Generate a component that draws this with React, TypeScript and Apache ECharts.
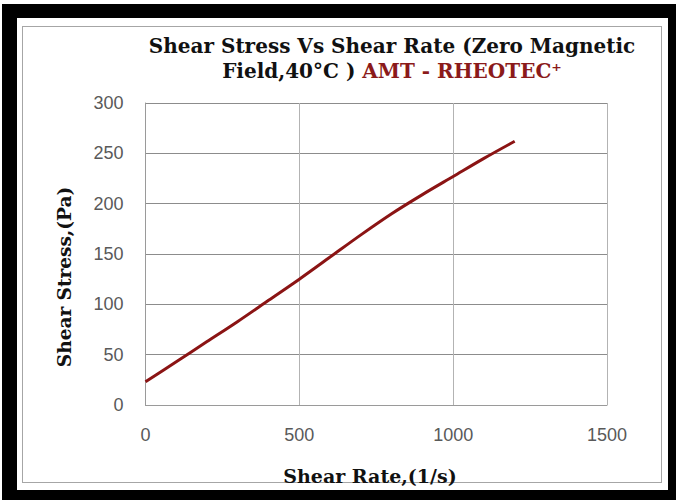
import React, { useEffect, useRef } from "react";
import * as echarts from "echarts";

const shearRate = [0, 100, 200, 300, 400, 500, 600, 700, 800, 900, 1000, 1100, 1200];
const shearStress = [23, 43, 63, 83, 104, 125, 147, 169, 190, 209, 227, 245, 262];
const xTicks = { min: 0, max: 1500, interval: 500 };
const yTicks = { min: 0, max: 300, interval: 50 };
const titleLine1 = "Shear Stress Vs Shear Rate (Zero Magnetic";
const titleLine2a = "Field,40°C ) ";
const titleLine2b = "AMT - RHEOTEC⁺";
const xName = "Shear Rate,(1/s)";
const yName = "Shear Stress,(Pa)";

export default function App() {
  const ref = useRef<HTMLDivElement>(null);
  useEffect(() => {
    const chart = echarts.init(ref.current!, null, { renderer: "svg" });
    const serif = "DejaVu Serif";
    chart.setOption({
      animation: false,
      grid: { left: 145.5, right: 69, top: 103, bottom: 95 },
      xAxis: {
        type: "value",
        min: xTicks.min,
        max: xTicks.max,
        interval: xTicks.interval,
        axisLine: { show: true, lineStyle: { color: "#9a9a9a", width: 1 } },
        axisTick: { show: false },
        axisLabel: {
          color: "#595959",
          fontFamily: "Liberation Sans",
          fontSize: 18,
          margin: 21,
          formatter: (v: number) => String(v),
        },
        splitLine: { show: true, lineStyle: { color: "#b3b3b3", width: 1 } },
      },
      yAxis: {
        type: "value",
        min: yTicks.min,
        max: yTicks.max,
        interval: yTicks.interval,
        axisLine: { show: true, lineStyle: { color: "#9a9a9a", width: 1 } },
        axisTick: { show: false },
        axisLabel: {
          color: "#595959",
          fontFamily: "Liberation Sans",
          fontSize: 18,
          margin: 22,
          formatter: (v: number) => String(v),
        },
        splitLine: { show: true, lineStyle: { color: "#8c8c8c", width: 1 } },
      },
      series: [
        {
          type: "line",
          data: shearRate.map((x, i) => [x, shearStress[i]]),
          smooth: 0.3,
          showSymbol: false,
          lineStyle: { color: "#8b1414", width: 3 },
        },
      ],
      graphic: [
        {
          type: "text",
          x: 392,
          y: 33,
          style: {
            text: `{k|${titleLine1}}\n{k|${titleLine2a}}{r|${titleLine2b}}`,
            align: "center",
            rich: {
              k: { fontFamily: serif, fontWeight: "bold", fontSize: 20, fill: "#111", lineHeight: 25 },
              r: { fontFamily: serif, fontWeight: "bold", fontSize: 20, fill: "#8b1a1a", lineHeight: 25 },
            },
          },
        },
        {
          type: "text",
          x: 370,
          y: 476,
          style: {
            text: xName,
            align: "center",
            verticalAlign: "middle",
            fontFamily: serif,
            fontWeight: "bold",
            fontSize: 19,
            fill: "#111",
          },
        },
        {
          type: "text",
          x: 64,
          y: 277,
          rotation: Math.PI / 2,
          style: {
            text: yName,
            align: "center",
            verticalAlign: "middle",
            fontFamily: serif,
            fontWeight: "bold",
            fontSize: 18.5,
            fill: "#111",
          },
        },
      ],
    });
    return () => chart.dispose();
  }, []);
  return (
    <div style={{ position: "fixed", left: 0, top: 0, width: 676, height: 500, background: "#fff" }}>
      <div style={{ position: "absolute", left: 2, top: 4, width: 674, height: 496, background: "#000" }} />
      <div style={{ position: "absolute", left: 17, top: 18, width: 651, height: 472, background: "#fff" }} />
      <div
        style={{
          position: "absolute",
          left: 22,
          top: 26,
          width: 638,
          height: 455,
          border: "1px solid #a6a6a6",
        }}
      />
      <div ref={ref} style={{ position: "absolute", left: 0, top: 0, width: 676, height: 500 }} />
    </div>
  );
}
